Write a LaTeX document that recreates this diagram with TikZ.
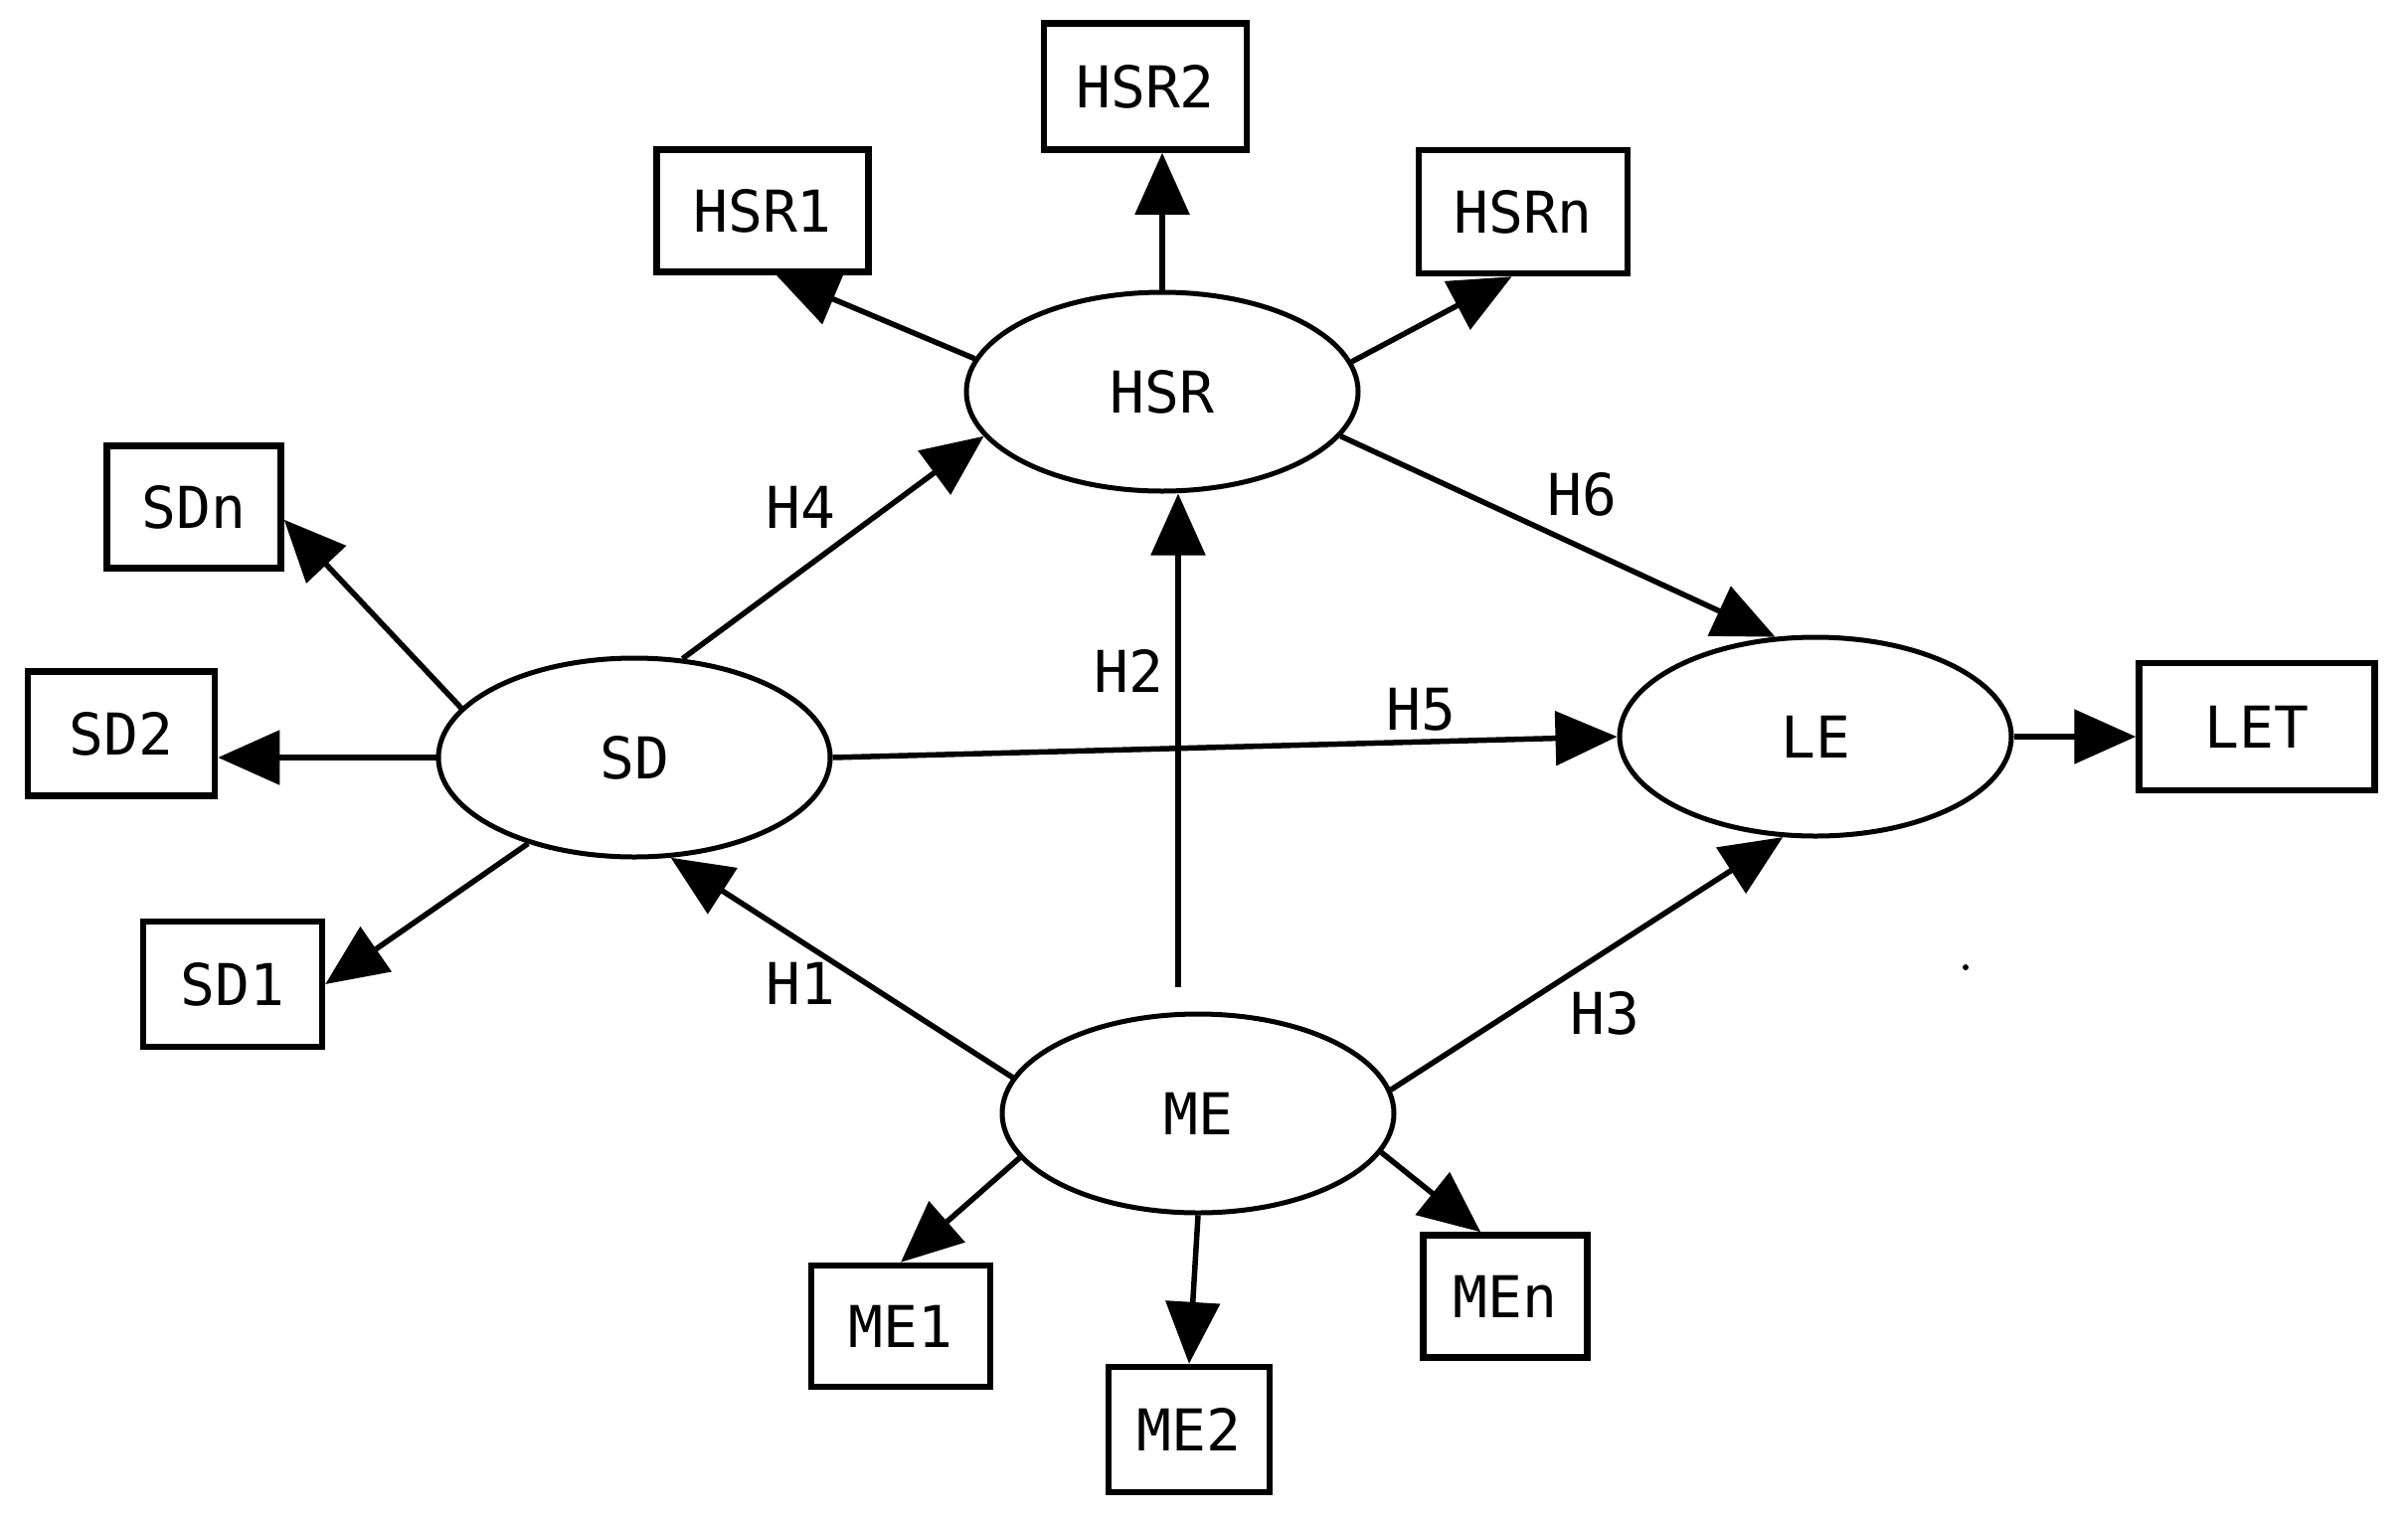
\documentclass[tikz,border=0pt]{standalone}
\usepackage{fontspec}
\setmonofont{DejaVu Sans Mono}
\usetikzlibrary{arrows.meta,shapes.geometric,calc}
\begin{document}
\begin{tikzpicture}[x=1pt,y=-1pt,
  every node/.style={font=\ttfamily\fontsize{58}{66}\selectfont},
  latent/.style={ellipse,draw,line width=5pt,minimum width=394pt,minimum height=200pt,inner sep=0pt},
  ind/.style={rectangle,draw,line width=6.5pt,inner sep=0pt},
  arr/.style={line width=5.5pt,-{Triangle[length=62pt,width=54pt]}},
  hlabel/.style={inner sep=0pt}
]
\useasboundingbox (0,0) rectangle (2422,1529);
% latent variables
\node[latent] (HSR) at (1169,394) {HSR};
\node[latent] (SD)  at (638,762)  {SD};
\node[latent] (LE)  at (1826,741) {LE};
\node[latent] (ME)  at (1205,1120) {ME};
% indicators
\node[ind,minimum width=213pt,minimum height=123pt] (HSR1) at (767,212) {HSR1};
\node[ind,minimum width=204pt,minimum height=127pt] (HSR2) at (1152,87) {HSR2};
\node[ind,minimum width=210pt,minimum height=124pt] (HSRn) at (1532,213) {HSRn};
\node[ind,minimum width=175pt,minimum height=123pt] (SDn) at (195,510) {SDn};
\node[ind,minimum width=188pt,minimum height=125pt] (SD2) at (122,738) {SD2};
\node[ind,minimum width=180pt,minimum height=126pt] (SD1) at (234,990) {SD1};
\node[ind,minimum width=237pt,minimum height=128pt] (LET) at (2270,731) {LET};
\node[ind,minimum width=180pt,minimum height=122pt] (ME1) at (906,1334) {ME1};
\node[ind,minimum width=162pt,minimum height=126pt] (ME2) at (1196,1438) {ME2};
\node[ind,minimum width=165pt,minimum height=123pt] (MEn) at (1514,1304) {MEn};
% measurement arrows
\draw[arr] (HSR.170) -- (HSR1.-78);
\draw[arr] (HSR.north) -- (HSR.north |- HSR2.south);
\draw[arr] (HSR.9) -- (HSRn.-100);
\draw[arr] (SD.164) -- (SDn.-8);
\draw[arr] (SD.west) -- (SD.west -| SD2.east);
\draw[arr] (SD.219) -- (SD1.east);
\draw[arr] (LE.east) -- (LE.east -| LET.west);
\draw[arr] (ME.194) -- (ME1.north);
\draw[arr] (ME.south) -- (ME2.north);
\draw[arr] (ME.-12) -- (MEn.111);
% structural arrows
\draw[arr] (SD.64) -- (HSR.194);
\draw[arr] ($(ME.north)+(-20,-25)$) -- ($(HSR.south)+(16,0)$);
\draw[arr] (SD.east) -- (LE.west);
\draw[arr] (HSR.-14) -- (LE.112);
\draw[arr] (ME.169) -- (SD.290);
\draw[arr] (ME.7) -- (LE.252);
% labels
\node[hlabel] (lH4) at (805,510) {H4};
\node[hlabel] (lH2) at (1135,675) {H2};
\node[hlabel] (lH5) at (1429,714) {H5};
\node[hlabel] (lH6) at (1591,497) {H6};
\node[hlabel] (lH1) at (805,989) {H1};
\node[hlabel] (lH3) at (1614,1019) {H3};
% stray dot
\fill (1977,973) circle (3pt);
\end{tikzpicture}
\end{document}
